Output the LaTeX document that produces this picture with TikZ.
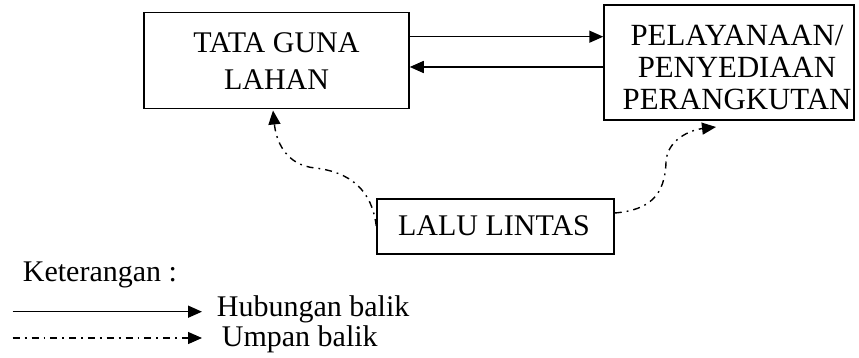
\documentclass[tikz,border=0pt]{standalone}
\usepackage{fontspec}
\setmainfont{Liberation Serif}
\usetikzlibrary{arrows.meta}
\begin{document}
\begin{tikzpicture}[x=1pt,y=-1pt,
  boxstyle/.style={draw,line width=1.5pt,rectangle,inner sep=0pt},
  txt/.style={inner sep=0pt,align=center},
  hub/.style={line width=1.5pt,-{Triangle[length=14pt,width=12pt]}},
  umpan/.style={line width=1.4pt,dash pattern=on 7pt off 5pt on 1.8pt off 5pt,-{Triangle[length=14pt,width=12pt]}}]
\useasboundingbox (0,0) rectangle (859,358);
\fontsize{30}{36.6}\selectfont
% boxes
\node[boxstyle,minimum width=265pt,minimum height=95.6pt] (b1) at (276.5,60.5) {};
\node[txt,font=\fontsize{30}{36.6}\selectfont] (t1) at (276.5,60.8) {TATA GUNA\\LAHAN};
\node[boxstyle,minimum width=250pt,minimum height=115pt] (b2) at (729,62.5) {};
\node[txt,font=\fontsize{30.8}{32}\selectfont] (t2) at (737,67) {PELAYANAAN/\\PENYEDIAAN\\PERANGKUTAN};
\node[boxstyle,minimum width=237pt,minimum height=55pt] (b3) at (495.5,226.5) {};
\node[txt,font=\fontsize{30}{32}\selectfont] (t3) at (494,226) {LALU LINTAS};
% solid arrows
\draw[hub] (b1.east |- 0,36.7) -- (b2.west |- 0,36.7);
\draw[hub] (b2.west |- 0,67) -- (b1.east |- 0,67);
% dash-dot feedback
\coordinate (lstart) at (b3.west |- 0,226);
\coordinate (ltip) at (273,110.5);
\draw[umpan] (lstart) .. controls (372,190) and (350,172) .. (315,168)
   .. controls (285,165) and (276,140) .. (ltip);
\coordinate (rstart) at (b3.east |- 0,213);
\coordinate (rtip) at (716,127);
\draw[umpan] (rstart) .. controls (650,210) and (665,195) .. (666,162)
   .. controls (667,140) and (690,130) .. (rtip);
% legend
\node[inner sep=0pt,anchor=base west] (ket) at (22.7,281.7) {Keterangan :};
\coordinate (h1) at (12.7,311.7);
\coordinate (h2) at (202,311.7);
\draw[hub] (h1) -- (h2);
\node[inner sep=0pt,anchor=base west] (hubtxt) at (216.7,316) {Hubungan balik};
\coordinate (u1) at (12.7,338);
\coordinate (u2) at (202,338);
\draw[umpan] (u1) -- (u2);
\node[inner sep=0pt,anchor=base west] (umptxt) at (221.7,346) {Umpan balik};
\end{tikzpicture}
\end{document}
